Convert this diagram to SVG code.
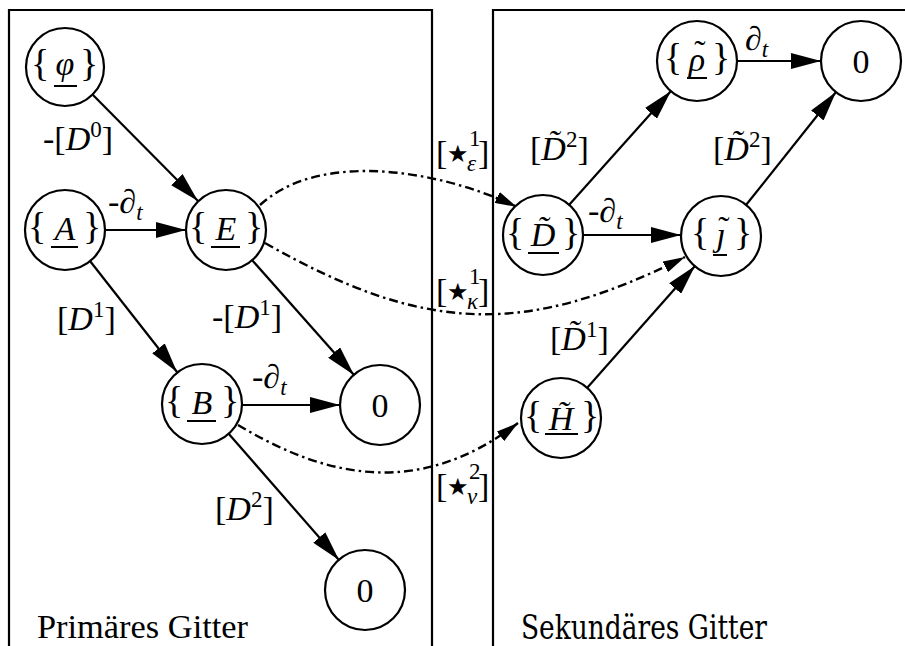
<svg xmlns="http://www.w3.org/2000/svg" width="905" height="646" viewBox="0 0 905 646">
<defs>
<style>
.m{font-size:34px;fill:#000}
.i{font-style:italic}
.s{font-size:23px}
.c{text-anchor:middle}
.br{font-size:38px}
.nd circle{fill:#fff;stroke:#000;stroke-width:2.2}
.ul{stroke:#000;stroke-width:2}
.e{fill:none;stroke:#000;stroke-width:2.2}
.d{fill:none;stroke:#000;stroke-width:2.4;stroke-dasharray:9 4 2.5 4}
.box{fill:none;stroke:#000;stroke-width:2.2}
.star{font-family:"DejaVu Sans",sans-serif;font-size:24px}
</style>
<marker id="ah" markerUnits="userSpaceOnUse" viewBox="0 0 30 16" refX="30" refY="8" markerWidth="30" markerHeight="16" orient="auto"><path d="M0,0 L30,8 L0,16 Z" fill="#000"/></marker>
<marker id="ahs" markerUnits="userSpaceOnUse" viewBox="0 0 22 12" refX="22" refY="6" markerWidth="22" markerHeight="12" orient="auto"><path d="M0,0 L22,6 L0,12 Z" fill="#000"/></marker>
</defs>
<rect width="905" height="646" fill="#fff"/>

<g id="boxes">
<path class="box" d="M9,646 V10 H432 V646"/>
<path class="box" d="M493,646 V10 H910"/>
<text font-family="Liberation Serif" font-size="34" x="37" y="638" textLength="211" lengthAdjust="spacingAndGlyphs">Primäres Gitter</text>
<text font-family="DejaVu Serif" font-size="34" x="521" y="639" textLength="246" lengthAdjust="spacingAndGlyphs">Sekundäres Gitter</text>
</g>

<g font-family="Liberation Serif, DejaVu Serif, serif">
<g id="connectors">
<line class="e" x1="93" y1="95" x2="198" y2="201" marker-end="url(#ah)"/>
<line class="e" x1="105" y1="230" x2="186" y2="230" marker-end="url(#ah)"/>
<line class="e" x1="90" y1="261" x2="177" y2="372" marker-end="url(#ah)"/>
<line class="e" x1="252" y1="260" x2="354" y2="375" marker-end="url(#ah)"/>
<line class="e" x1="242" y1="405" x2="340" y2="405" marker-end="url(#ah)"/>
<line class="e" x1="228" y1="433" x2="339" y2="560" marker-end="url(#ah)"/>
<line class="e" x1="569" y1="205" x2="671" y2="91" marker-end="url(#ah)"/>
<line class="e" x1="583" y1="235" x2="681" y2="235" marker-end="url(#ah)"/>
<line class="e" x1="737" y1="61" x2="821" y2="61" marker-end="url(#ah)"/>
<line class="e" x1="746" y1="205" x2="836" y2="92" marker-end="url(#ah)"/>
<line class="e" x1="587" y1="388" x2="695" y2="266" marker-end="url(#ah)"/>
<path class="d" d="M260,205 C320,150 440,170 517,207" marker-end="url(#ahs)"/>
<path class="d" d="M265,243 C425,334 525,337 685,257" marker-end="url(#ahs)"/>
<path class="d" d="M238,425 C320,474 415,502 518,423" marker-end="url(#ahs)"/>
</g>

<g id="edge-labels">
<text class="m" x="43" y="150">-[<tspan class="i">D</tspan><tspan class="s" dy="-13">0</tspan><tspan dy="13">]</tspan></text>
<text class="m" x="108" y="213">-∂<tspan class="i s" dy="7">t</tspan></text>
<text class="m" x="57" y="330">[<tspan class="i">D</tspan><tspan class="s" dy="-13">1</tspan><tspan dy="13">]</tspan></text>
<text class="m" x="212" y="328">-[<tspan class="i">D</tspan><tspan class="s" dy="-13">1</tspan><tspan dy="13">]</tspan></text>
<text class="m" x="252" y="388">-∂<tspan class="i s" dy="7">t</tspan></text>
<text class="m" x="215" y="520">[<tspan class="i">D</tspan><tspan class="s" dy="-13">2</tspan><tspan dy="13">]</tspan></text>

<text class="m" x="588" y="222">-∂<tspan class="i s" dy="7">t</tspan></text>
<text class="m" x="745" y="50">∂<tspan class="i s" dy="7">t</tspan></text>
<text class="m" x="530" y="160">[<tspan class="i">D̃</tspan><tspan class="s" dy="-13">2</tspan><tspan dy="13">]</tspan></text>
<text class="m" x="713" y="160">[<tspan class="i">D̃</tspan><tspan class="s" dy="-13">2</tspan><tspan dy="13">]</tspan></text>
<text class="m" x="550" y="350">[<tspan class="i">D̃</tspan><tspan class="s" dy="-13">1</tspan><tspan dy="13">]</tspan></text>

<text class="m" x="436" y="164" font-size="42">[</text>
<text class="star" x="447" y="162">★</text>
<text class="m s" x="469" y="146">1</text>
<text class="m s i" x="467" y="171">ε</text>
<text class="m" x="478" y="164" font-size="42">]</text>

<text class="m" x="436" y="302" font-size="42">[</text>
<text class="star" x="447" y="300">★</text>
<text class="m s" x="469" y="284">1</text>
<text class="m s i" x="467" y="309">κ</text>
<text class="m" x="478" y="302" font-size="42">]</text>

<text class="m" x="436" y="497" font-size="42">[</text>
<text class="star" x="447" y="495">★</text>
<text class="m s" x="469" y="479">2</text>
<text class="m s i" x="467" y="504">ν</text>
<text class="m" x="478" y="497" font-size="42">]</text>
</g>

<g id="n-phi" class="nd"><circle cx="65" cy="67" r="39"/><text class="m br c" x="40" y="76">{</text><text class="m c i" x="65" y="75">φ</text><text class="m br c" x="89" y="76">}</text><line class="ul" x1="54" y1="86" x2="77" y2="86"/></g>
<g id="n-A" class="nd"><circle cx="65" cy="230" r="40"/><text class="m br c" x="37" y="239">{</text><text class="m c i" x="65" y="240">A</text><text class="m br c" x="92" y="239">}</text><line class="ul" x1="51" y1="247" x2="78" y2="247"/></g>
<g id="n-E" class="nd"><circle cx="226" cy="230" r="40"/><text class="m br c" x="198" y="239">{</text><text class="m c i" x="226" y="240">E</text><text class="m br c" x="254" y="239">}</text><line class="ul" x1="211" y1="247" x2="240" y2="247"/></g>
<g id="n-B" class="nd"><circle cx="202" cy="404" r="40"/><text class="m br c" x="174" y="413">{</text><text class="m c i" x="202" y="414">B</text><text class="m br c" x="230" y="413">}</text><line class="ul" x1="187" y1="421" x2="216" y2="421"/></g>
<g id="n-0a" class="nd"><circle cx="380" cy="405" r="40"/><text class="m c" x="380" y="417">0</text></g>
<g id="n-0b" class="nd"><circle cx="365" cy="590" r="40"/><text class="m c" x="365" y="602">0</text></g>

<g id="n-D" class="nd"><circle cx="543" cy="235" r="40"/><text class="m br c" x="515" y="245">{</text><text class="m c i" x="543" y="246">D̃</text><text class="m br c" x="571" y="245">}</text><line class="ul" x1="528" y1="253" x2="559" y2="253"/></g>
<g id="n-rho" class="nd"><circle cx="697" cy="61" r="40"/><text class="m br c" x="673" y="70">{</text><text class="m c i" x="697" y="71">ρ</text><text class="m c" x="700" y="64">˜</text><text class="m br c" x="721" y="70">}</text><line class="ul" x1="687" y1="78" x2="707" y2="78"/></g>
<g id="n-0c" class="nd"><circle cx="861" cy="61" r="40"/><text class="m c" x="861" y="73">0</text></g>
<g id="n-j" class="nd"><circle cx="721" cy="236" r="40"/><text class="m br c" x="700" y="245">{</text><text class="m c i" x="721" y="246">ȷ</text><text class="m c" x="724" y="240">˜</text><text class="m br c" x="743" y="245">}</text><line class="ul" x1="713" y1="255" x2="727" y2="255"/></g>
<g id="n-H" class="nd"><circle cx="561" cy="418" r="40"/><text class="m br c" x="533" y="428">{</text><text class="m c i" x="561" y="430">H̃</text><text class="m br c" x="590" y="428">}</text><line class="ul" x1="545" y1="434" x2="578" y2="434"/></g>
</g>
</svg>
